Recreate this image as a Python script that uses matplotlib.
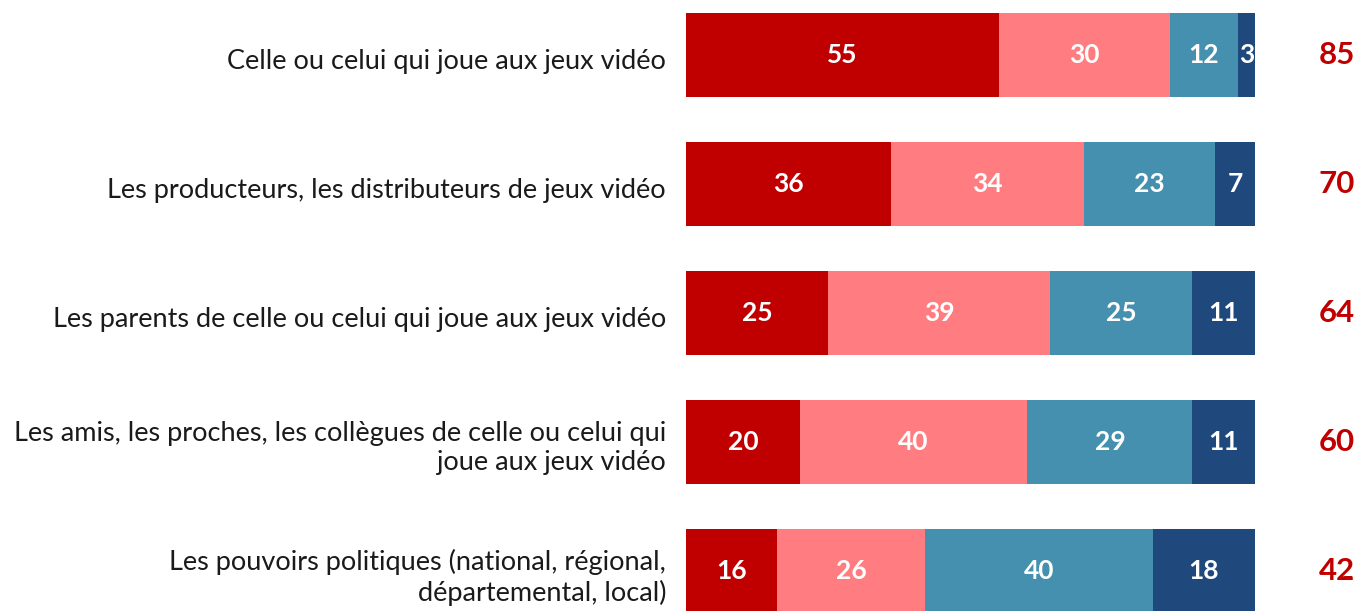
import matplotlib
matplotlib.use("Agg")
import matplotlib.pyplot as plt
import numpy as np

plt.rcParams['font.family'] = ['Lato', 'DejaVu Sans']

# Données
categories = [
    "Celle ou celui qui joue aux jeux vidéo",
    "Les producteurs, les distributeurs de jeux vidéo",
    "Les parents de celle ou celui qui joue aux jeux vidéo",
    "Les amis, les proches, les collègues de celle ou celui qui\njoue aux jeux vidéo",
    "Les pouvoirs politiques (national, régional,\ndépartemental, local)",
]
tout_a_fait = [55, 36, 25, 20, 16]
plutot = [30, 34, 39, 40, 26]
plutot_pas = [12, 23, 25, 29, 40]
pas_du_tout = [3, 7, 11, 11, 18]
totals = [85, 70, 64, 60, 42]

series = [tout_a_fait, plutot, plutot_pas, pas_du_tout]
colors = ["#C00000", "#FF7C80", "#4490AE", "#1F497D"]

fig = plt.figure(figsize=(13.6, 6.11), dpi=100)
ax = fig.add_axes([686 / 1360, 0, 569 / 1360, 1])

y = np.arange(len(categories))
left = np.zeros(len(categories))
for vals, col in zip(series, colors):
    vals = np.array(vals, dtype=float)
    ax.barh(y, vals, left=left, height=0.65, color=col, edgecolor="none")
    for yi, l, v in zip(y, left, vals):
        ax.text(l + v / 2, yi, f"{int(v)}", ha="center", va="center",
                color="white", fontsize=19, fontweight="bold")
    left += vals

for yi, cat, tot in zip(y, categories, totals):
    ax.text(-3.5, yi + 0.05, cat, ha="right", va="center", fontsize=19.5,
            color="#1a1a1a", linespacing=1.2)
    ax.text(114.4, yi, str(tot), ha="center", va="center", fontsize=22.5,
            fontweight="bold", color="#C00000")

ax.set_xlim(0, 100)
ax.set_ylim(4.31, -0.426)
ax.axis("off")

plt.savefig("out.png", dpi=100)
